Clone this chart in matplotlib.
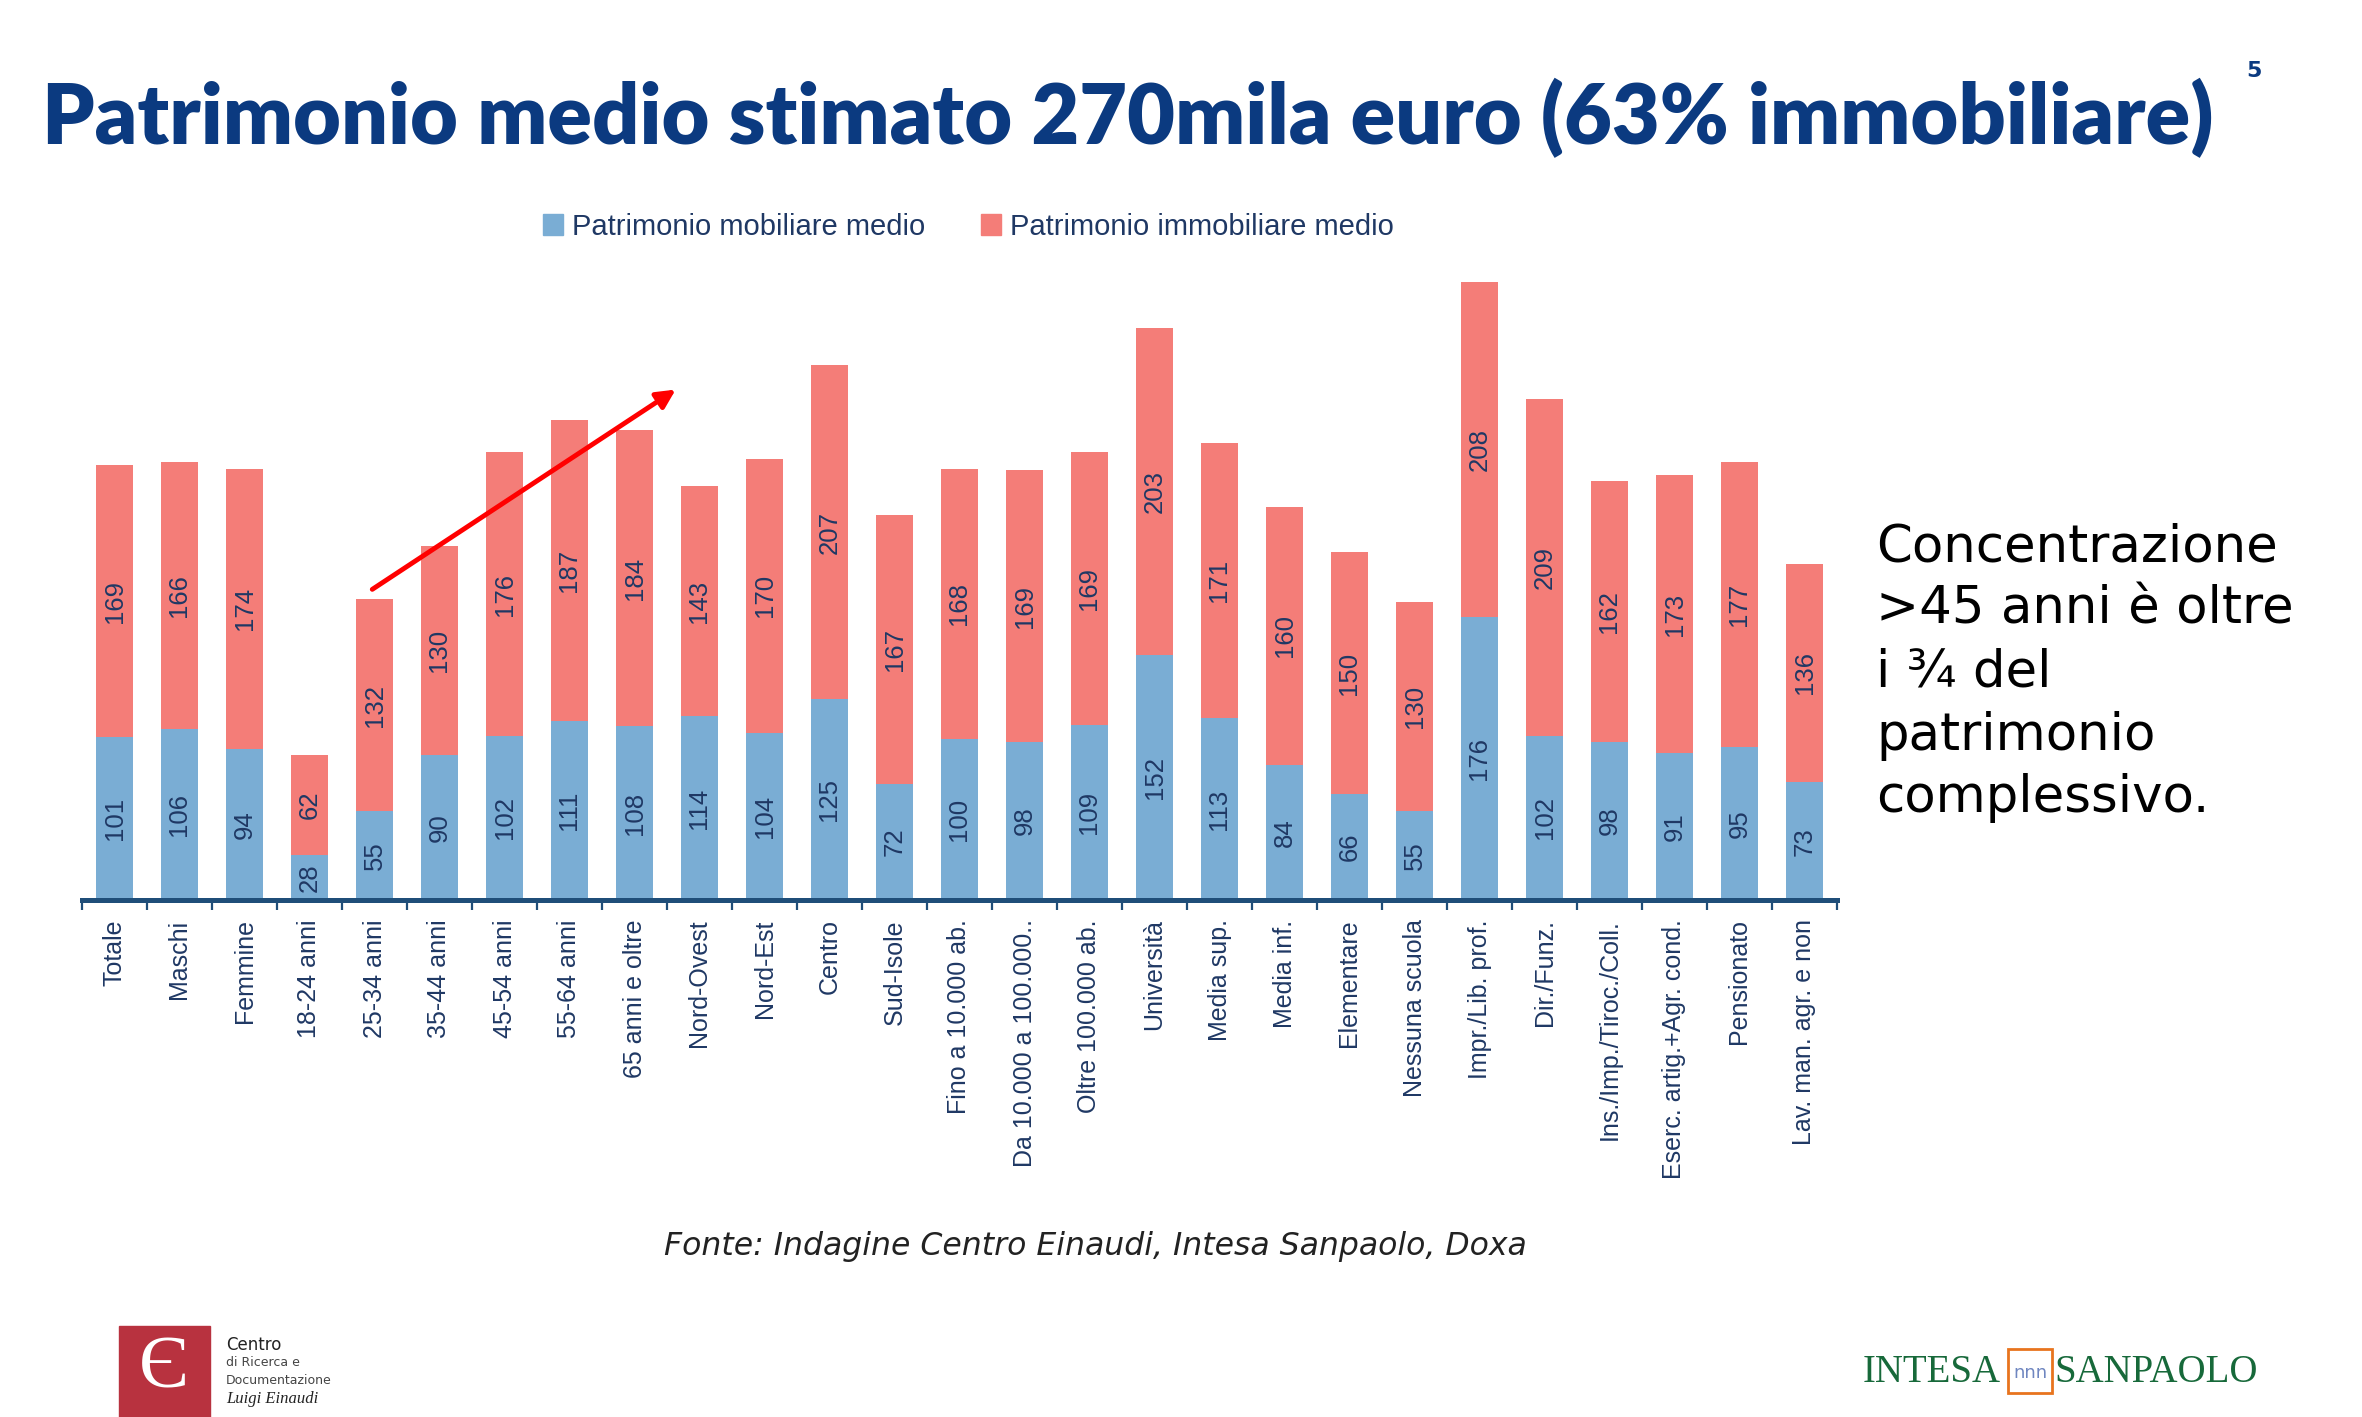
import numpy as np
import matplotlib.pyplot as plt
from matplotlib.patches import Patch, Rectangle

# ----------------------------------------
# Data (migliaia di euro)
# ----------------------------------------
categorie = ["Totale", "Maschi", "Femmine", "18-24 anni", "25-34 anni", "35-44 anni",
             "45-54 anni", "55-64 anni", "65 anni e oltre", "Nord-Ovest", "Nord-Est",
             "Centro", "Sud-Isole", "Fino a 10.000 ab.", "Da 10.000 a 100.000..",
             "Oltre 100.000 ab.", "Università", "Media sup.", "Media inf.", "Elementare",
             "Nessuna scuola", "Impr./Lib. prof.", "Dir./Funz.", "Ins./Imp./Tiroc./Coll.",
             "Eserc. artig.+Agr. cond.", "Pensionato", "Lav. man. agr. e non"]
mobiliare = [101, 106, 94, 28, 55, 90, 102, 111, 108, 114, 104, 125, 72, 100, 98, 109,
             152, 113, 84, 66, 55, 176, 102, 98, 91, 95, 73]
immobiliare = [169, 166, 174, 62, 132, 130, 176, 187, 184, 143, 170, 207, 167, 168, 169, 169,
               203, 171, 160, 150, 130, 208, 209, 162, 173, 177, 136]
serie_nomi = ["Patrimonio mobiliare medio", "Patrimonio immobiliare medio"]

BLUE = "#7AADD4"
RED = "#F47D78"
NAVY = "#1F3864"
AXIS = "#1F4E79"
TITLE = "#0B3A80"
NARROW = ["Liberation Sans Narrow", "Liberation Sans", "DejaVu Sans"]

fig = plt.figure(figsize=(23.62, 14.17), dpi=100)
fig.patch.set_facecolor("white")

ax = fig.add_axes([82 / 2362, 1 - 900 / 1417, 1755 / 2362, 644 / 1417])
x = np.arange(len(categorie))
ax.bar(x, mobiliare, width=0.57, color=BLUE)
ax.bar(x, immobiliare, width=0.57, bottom=mobiliare, color=RED)

# value labels inside segments
for i in range(len(categorie)):
    b = mobiliare[i]
    r = immobiliare[i]
    ax.text(i, b / 2, str(b), rotation=90, ha="center", va="center",
            fontsize=18.5, color=NAVY, family=NARROW)
    ax.text(i, b + r / 2, str(r), rotation=90, ha="center", va="center",
            fontsize=18.5, color=NAVY, family=NARROW)

ax.set_xlim(-0.5, len(categorie) - 0.5)
ax.set_ylim(0, 400)
for s in ["top", "right", "left"]:
    ax.spines[s].set_visible(False)
ax.spines["bottom"].set_color(AXIS)
ax.spines["bottom"].set_linewidth(3.6)
ax.set_yticks([])

ax.set_xticks(x)
ax.set_xticklabels(categorie, rotation=90, va="top", ha="center",
                   fontsize=18, color=NAVY, family=NARROW)
ax.tick_params(axis="x", which="major", length=0, pad=14)
ax.set_xticks(np.arange(-0.5, len(categorie), 1.0), minor=True)
ax.tick_params(axis="x", which="minor", length=7, width=1.6, color=AXIS, direction="out")

# freccia
ax.annotate("", xy=(8.67, 318), xytext=(3.93, 192),
            arrowprops=dict(arrowstyle="-|>", color="#FF0000", lw=3.5, mutation_scale=28),
            annotation_clip=False)

# legend
handles = [Patch(color=BLUE), Patch(color=RED)]
fig.legend(handles, serie_nomi, loc="center", bbox_to_anchor=(0.410, 0.84), ncol=2,
           frameon=False, handlelength=0.7, handleheight=0.7, handletextpad=0.3,
           columnspacing=1.9, prop={"family": NARROW, "size": 21}, labelcolor=NAVY)

# titolo
fig.text(42 / 2362, 1 - 118 / 1417, "Patrimonio medio stimato 270mila euro (63% immobiliare)",
         fontsize=59.5, fontweight="heavy", color=TITLE, family=["Lato", "DejaVu Sans"],
         ha="left", va="center")
fig.text(2254 / 2362, 1 - 71 / 1417, "5", fontsize=16, fontweight="bold", color=TITLE,
         ha="center", va="center")

# testo a destra
fig.text(1876 / 2362, 1 - 522 / 1417,
         "Concentrazione\n>45 anni è oltre\ni ¾ del\npatrimonio\ncomplessivo.",
         fontsize=37, color="black", family=["DejaVu Sans"], ha="left", va="top",
         linespacing=1.33)

# fonte
fig.text(1095 / 2362, 1 - 1247 / 1417, "Fonte: Indagine Centro Einaudi, Intesa Sanpaolo, Doxa",
         fontsize=22.7, style="italic", color="#222222", family=["DejaVu Sans"],
         ha="center", va="center")

# logo Centro Einaudi
fig.patches.append(Rectangle((119 / 2362, 0), 91 / 2362, 91 / 1417,
                             transform=fig.transFigure, color="#B8323F", zorder=1))
fig.text(164 / 2362, 1 - 1370 / 1417, "Є", fontsize=54, color="white",
         family=["Liberation Serif", "DejaVu Serif"], ha="center", va="center")
fig.text(226 / 2362, 1 - 1345 / 1417, "Centro", fontsize=12, color="#222222", va="center")
fig.text(226 / 2362, 1 - 1363 / 1417, "di Ricerca e", fontsize=9, color="#444444", va="center")
fig.text(226 / 2362, 1 - 1380 / 1417, "Documentazione", fontsize=9, color="#444444", va="center")
fig.text(226 / 2362, 1 - 1399 / 1417, "Luigi Einaudi", fontsize=12, style="italic",
         color="#222222", family=["Liberation Serif", "DejaVu Serif"], va="center")

# logo Intesa Sanpaolo
GREEN = "#17693A"
fig.text(1863 / 2362, 1 - 1372 / 1417, "INTESA", fontsize=28, color=GREEN,
         family=["Liberation Serif", "DejaVu Serif"], ha="left", va="center")
fig.patches.append(Rectangle((2008 / 2362, 1 - 1393 / 1417), 44 / 2362, 44 / 1417,
                             transform=fig.transFigure, facecolor="white",
                             edgecolor="#E8741E", lw=2, zorder=1))
fig.text(2030 / 2362, 1 - 1373 / 1417, "nnn", fontsize=13, color="#6F86C0",
         ha="center", va="center")
fig.text(2258 / 2362, 1 - 1372 / 1417, "SANPAOLO", fontsize=28, color=GREEN,
         family=["Liberation Serif", "DejaVu Serif"], ha="right", va="center")

plt.savefig("out.png", dpi=100, facecolor="white")
